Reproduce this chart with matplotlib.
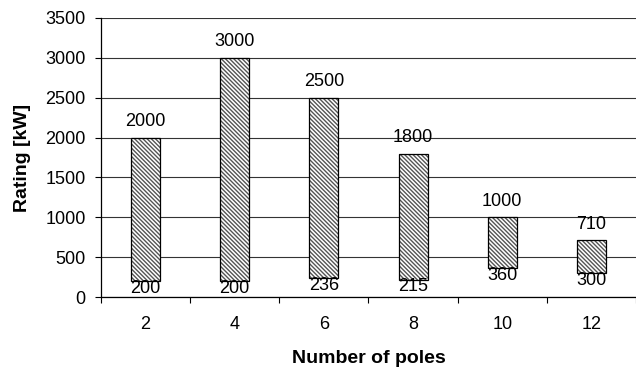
import matplotlib.pyplot as plt
from matplotlib.ticker import MultipleLocator, FixedLocator

# data
poles = ['2', '4', '6', '8', '10', '12']
rating_max = [2000, 3000, 2500, 1800, 1000, 710]
rating_min = [200, 200, 236, 215, 360, 300]

plt.rcParams['font.family'] = ['Liberation Sans', 'DejaVu Sans']
plt.rcParams['hatch.linewidth'] = 1.0

fig = plt.figure(figsize=(6.36, 3.71), dpi=100)
ax = fig.add_axes([101/636, 1-297/371, 1-101/636, (297-18)/371])

x = list(range(len(poles)))
heights = [hi - lo for hi, lo in zip(rating_max, rating_min)]
w = 0.325

# hatch in grey, outline in black
ax.bar(x, heights, bottom=rating_min, width=w, color='white',
       edgecolor='#555555', hatch='\\' * 8, linewidth=0, zorder=3)
ax.bar(x, heights, bottom=rating_min, width=w, fill=False,
       edgecolor='black', linewidth=0.9, zorder=4)

for xi, hi, lo in zip(x, rating_max, rating_min):
    ax.annotate(str(hi), (xi, hi), xytext=(0, 5.5), textcoords='offset points',
                ha='center', va='bottom', fontsize=13)
    ax.annotate(str(lo), (xi, lo), xytext=(0, 1), textcoords='offset points',
                ha='center', va='top', fontsize=13)

ax.set_xlim(-0.5, len(poles) - 0.5)
ax.set_ylim(0, 3500)
ax.yaxis.set_major_locator(MultipleLocator(500))
ax.grid(axis='y', color='#333333', linewidth=0.8, zorder=0)

ax.set_xticks(x)
ax.set_xticklabels(poles)
ax.xaxis.set_minor_locator(FixedLocator([i - 0.5 for i in range(len(poles) + 1)]))
ax.tick_params(axis='x', which='major', length=0, pad=14, labelsize=13)
ax.tick_params(axis='x', which='minor', length=4, direction='out', width=0.8)
ax.tick_params(axis='y', length=4, width=0.8, pad=7, labelsize=13)

for s in ['top', 'right']:
    ax.spines[s].set_visible(False)
ax.spines['left'].set_linewidth(0.9)
ax.spines['bottom'].set_linewidth(0.9)

ax.set_xlabel('Number of poles', fontsize=14, fontweight='bold', labelpad=12)
ax.set_ylabel('Rating [kW]', fontsize=14, fontweight='bold', labelpad=10)

fig.savefig('out.png', dpi=100)
